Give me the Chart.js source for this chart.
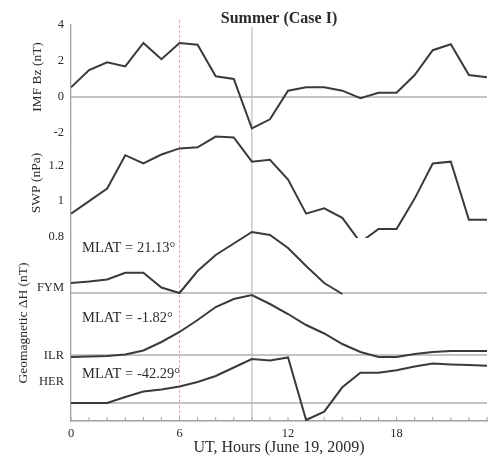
<!DOCTYPE html>
<html>
<head>
<meta charset="utf-8">
<title>Summer (Case I)</title>
<script src="https://cdn.jsdelivr.net/npm/chart.js@4.4.1/dist/chart.umd.min.js"></script>
<style>
  html, body { margin: 0; padding: 0; background: #fff; overflow: hidden; }
</style>
</head>
<body>
<canvas id="chart1" width="492" height="456"></canvas>
<script>
// UT hours, June 19, 2009
const hours = [0, 1, 2, 3, 4, 5, 6, 7, 8, 9, 10, 11, 12, 13, 14, 15, 16, 17, 18, 19, 20, 21, 22, 23];

// IMF Bz (nT)
const imfBz = [0.54, 1.5, 1.93, 1.7, 3.0, 2.1, 3.0, 2.9, 1.15, 1.0, -1.74, -1.24,
               0.35, 0.54, 0.54, 0.35, -0.07, 0.24, 0.24, 1.22, 2.6, 2.93, 1.22, 1.1];

// solar wind dynamic pressure (nPa)
const swp = [0.93, 1.0, 1.07, 1.256, 1.21, 1.26, 1.294, 1.3, 1.36, 1.355, 1.22, 1.23,
             1.12, 0.93, 0.96, 0.907, 0.77, 0.845, 0.845, 1.014, 1.21, 1.22, 0.896, 0.896];

// ground stations, top to bottom
const stations = ['FYM', 'ILR', 'HER'];
const stationMlat = ['21.13', '-1.82', '-42.29'];
const stationBase = [128, 66, 18];   // where each station's zero sits on the ΔH axis

// ΔH (nT) relative to each station's baseline
const fymDH = [10, 11.4, 13.5, 20.3, 20.3, 5.5, 0, 22, 38, 49.5, 61, 58,
               45, 27, 10, -1, null, null, null, null, null, null, null, null];
const ilrDH = [-2, -1.5, -1, 0.5, 4.5, 13, 23, 35, 48, 56, 60, 51,
               41, 30, 21.5, 11, 3, -2, -2, 1, 3, 4, 4, 4];
const herDH = [0, 0, 0, 6, 11.5, 13.5, 16.5, 21, 27, 35.5, 44, 42.5,
               45.5, -17, -8.7, 15.7, 30.3, 30.3, 32.8, 36.6, 39.5, 38.6, 38, 37.3];

// reference times marked across all panels
const markerHours = [6, 10];

const serif = "'Liberation Serif', 'DejaVu Serif', serif";
const textColor = '#2a2a2a';
const lineColor = '#3a3a3a';
const axisColor = '#a0a0a0';

function series(values, yAxisID, offset) {
    return {
        data: values.map((v, i) => ({ x: hours[i], y: v === null ? null : v + (offset || 0) })),
        yAxisID: yAxisID,
        borderColor: lineColor,
        borderWidth: 2,
        pointRadius: 0,
        tension: 0,
        spanGaps: false,
        clip: false
    };
}

const datasets = [
    series(imfBz, 'yImf'),
    series(swp, 'ySwp'),
    series(fymDH, 'yGround', stationBase[0]),
    series(ilrDH, 'yGround', stationBase[1]),
    series(herDH, 'yGround', stationBase[2])
];

// reference lines, hour ticks, and all the free text
const panelDecor = {
    id: 'panelDecor',
    beforeDatasetsDraw(chart) {
        const { ctx, chartArea: a, scales } = chart;
        const x = scales.x;
        ctx.save();

        // IMF zero line and station baselines
        ctx.strokeStyle = '#b0b0b0';
        ctx.lineWidth = 1.3;
        const levels = [scales.yImf.getPixelForValue(0)]
            .concat(stationBase.map(b => scales.yGround.getPixelForValue(b)));
        levels.forEach(py => {
            ctx.beginPath();
            ctx.moveTo(a.left, py);
            ctx.lineTo(a.right, py);
            ctx.stroke();
        });

        // 06 UT dashed, 10 UT solid
        const px6 = x.getPixelForValue(markerHours[0]);
        ctx.strokeStyle = '#eaa7b0';
        ctx.lineWidth = 1;
        ctx.setLineDash([3, 2]);
        ctx.beginPath();
        ctx.moveTo(px6, a.top - 5);
        ctx.lineTo(px6, a.bottom);
        ctx.stroke();
        ctx.setLineDash([]);

        const px10 = x.getPixelForValue(markerHours[1]);
        ctx.strokeStyle = '#bdbdbd';
        ctx.lineWidth = 1.2;
        ctx.beginPath();
        ctx.moveTo(px10, a.top + 2);
        ctx.lineTo(px10, a.bottom);
        ctx.stroke();

        // hourly ticks pointing into the plot
        ctx.strokeStyle = axisColor;
        ctx.lineWidth = 1;
        x.ticks.forEach(t => {
            const px = x.getPixelForValue(t.value);
            ctx.beginPath();
            ctx.moveTo(px, a.bottom);
            ctx.lineTo(px, a.bottom - 4);
            ctx.stroke();
        });
        ctx.restore();
    },
    // keep each trace inside the bottom of its own panel
    beforeDatasetDraw(chart, args) {
        const { ctx, chartArea: a } = chart;
        const yScale = chart.scales[args.meta.yAxisID];
        ctx.save();
        ctx.beginPath();
        ctx.rect(a.left, 0, a.right - a.left, yScale.bottom + 1);
        ctx.clip();
    },
    afterDatasetDraw(chart) {
        chart.ctx.restore();
    },
    afterDraw(chart) {
        const { ctx, chartArea: a, scales } = chart;
        ctx.save();
        ctx.fillStyle = textColor;

        ctx.font = 'bold 16px ' + serif;
        ctx.textAlign = 'center';
        ctx.textBaseline = 'alphabetic';
        ctx.fillText('Summer (Case I)', (a.left + a.right) / 2, 23);

        // axis titles
        ctx.font = '13.5px ' + serif;
        ctx.textBaseline = 'middle';
        [['IMF Bz (nT)', 37, 77], ['SWP (nPa)', 36, 183], ['Geomagnetic ΔH (nT)', 23, 323]]
            .forEach(([txt, tx, ty]) => {
                ctx.save();
                ctx.translate(tx, ty);
                ctx.rotate(-Math.PI / 2);
                ctx.fillText(txt, 0, 0);
                ctx.restore();
            });

        // station latitudes
        ctx.font = '14.5px ' + serif;
        ctx.textAlign = 'left';
        const labelLift = [45, 37, 29];
        stationMlat.forEach((m, i) => {
            const py = scales.yGround.getPixelForValue(stationBase[i] + labelLift[i]);
            ctx.fillText('MLAT = ' + m + '°', a.left + 11, py);
        });
        ctx.restore();
    }
};

function yPanel(weight, min, max, tickValues, labels) {
    return {
        type: 'linear',
        position: 'left',
        stack: 'panels',
        stackWeight: weight,
        min: min,
        max: max,
        grid: { display: false, drawTicks: false },
        border: { display: true, color: axisColor, width: 1.3 },
        afterBuildTicks: s => { s.ticks = tickValues.map(v => ({ value: v })); },
        afterFit: s => { s.width = 71; },
        ticks: {
            padding: 7,
            color: textColor,
            font: { family: serif, size: 12.5 },
            callback: (v, i) => labels ? labels[i] : v
        }
    };
}

const ctx = document.getElementById('chart1').getContext('2d');
const chart = new Chart(ctx, {
    type: 'line',
    data: { datasets: datasets },
    plugins: [panelDecor],
    options: {
        responsive: false,
        animation: false,
        layout: { padding: { top: 25, right: 1, left: 0, bottom: 0 } },
        plugins: {
            legend: { display: false },
            tooltip: { enabled: false }
        },
        scales: {
            x: {
                type: 'linear',
                min: 0,
                max: 23,
                grid: { display: false, drawTicks: false },
                border: { display: true, color: axisColor, width: 1.5 },
                afterFit: s => { s.height = 35; },
                ticks: {
                    stepSize: 1,
                    autoSkip: false,
                    maxRotation: 0,
                    padding: 5,
                    color: textColor,
                    font: { family: serif, size: 12.5 },
                    callback: v => (v % 6 === 0 ? v : '')
                },
                title: {
                    display: true,
                    text: 'UT, Hours (June 19, 2009)',
                    color: textColor,
                    font: { family: serif, size: 16, lineHeight: 1 },
                    padding: 0
                }
            },
            // stacked panels: later entries sit higher
            yGround: yPanel(184, 0, 184, [39, 65, 133], ['HER', 'ILR', 'FYM']),
            ySwp: yPanel(95, 0.8, 1.3296, [0.8, 1, 1.2]),
            yImf: yPanel(117, -2.5, 4, [-2, 0, 2, 4])
        }
    }
});
</script>
</body>
</html>
